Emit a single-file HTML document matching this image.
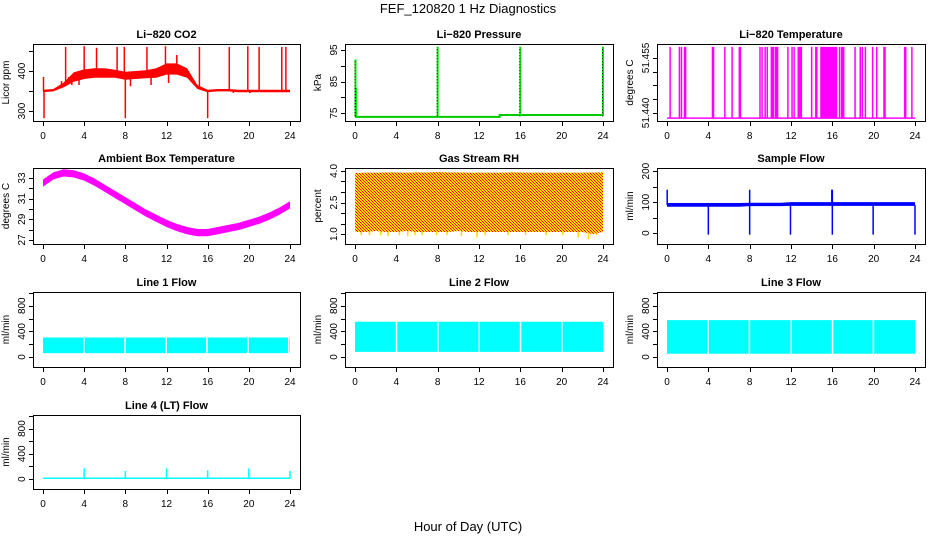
<!DOCTYPE html>
<html><head><meta charset="utf-8"><style>
body{margin:0;background:#fff}
svg{display:block;font-family:"Liberation Sans",Arial,sans-serif}
</style></head><body>
<svg id="c" width="936" height="540" viewBox="0 0 936 540" xmlns="http://www.w3.org/2000/svg">
<defs>
<pattern id="rhpat" width="3" height="3" patternUnits="userSpaceOnUse">
<rect width="3" height="3" fill="#ffd800"/><rect x="0" y="0" width="1" height="1" fill="#f00"/><rect x="2" y="2" width="1" height="1" fill="#f00"/><rect x="1" y="1" width="1" height="1" fill="#e33"/>
</pattern>
</defs>
<text x="468" y="13" text-anchor="middle" font-size="13">FEF_120820  1 Hz Diagnostics</text>
<text x="468" y="531" text-anchor="middle" font-size="13">Hour of Day (UTC)</text>
</svg>
<script>
// ---- data ----
const hourTicks = [0,4,8,12,16,20,24];
const hours = [0,1,2,3,4,5,6,7,8,9,10,11,12,13,14,15,16,17,18,19,20,21,22,23,24];
const co2Mid = [350,352,365,385,392,395,395,393,388,390,392,395,405,405,395,360,350,352,352,350,350,350,350,350,350];
const co2Half = [3,3,6,12,12,12,12,10,10,10,10,12,14,14,12,5,3,3,3,3,3,3,3,3,3];
const co2SpikeH = [0.05,0.1,2.2,4,5.2,7.2,7.9,8,10.1,11.9,15.2,16,18.1,19.9,21,23.2,23.6,2.8,3.5,8.5,10.5,12.2,18.5,20.1,1.8,2.5,13];
const co2SpikeV = [385,282,460,462,458,460,460,282,460,462,460,282,460,462,460,460,460,365,365,362,365,370,345,345,375,375,440];
const presBaseH = [0,14,14,24];
const presBaseV = [73.8,73.8,74.4,74.4];
const presSpikeH = [0.05,0.1,8,16,24];
const presSpikeV = [92,83,96,96,96];
const tempLow = 51.4386;
const tempHigh = 51.4580;
const tempSpikeH = [0.3,1.2,1.4,1.7,1.8,4.4,4.5,5.6,6.3,7.0,7.1,9.0,9.2,9.5,9.7,10.1,10.2,10.3,10.5,10.6,10.7,11.7,12.1,12.3,12.7,12.8,12.9,13.0,14.0,14.4,14.5,14.9,15.0,15.1,15.2,15.3,15.4,15.5,15.6,15.7,15.8,15.9,16.0,16.1,16.2,16.3,16.4,16.7,16.9,17.0,17.1,18.2,18.7,18.9,19.2,19.9,20.3,21.0,21.1,23.0,23.1,23.7];
const ambMid = [32.5,33.2,33.5,33.4,33.1,32.6,32.0,31.4,30.8,30.2,29.6,29.1,28.6,28.2,27.9,27.7,27.7,27.9,28.1,28.3,28.6,28.9,29.3,29.8,30.4];
const ambHalf = 0.35;
const rhUpper = [3.9,3.92,3.92,3.93,3.93,3.92,3.93,3.93,3.95,3.93,3.93,3.92,3.92,3.92,3.92,3.93,3.93,3.92,3.92,3.92,3.92,3.92,3.92,3.93,3.93];
const rhLower = [1.1,1.1,1.15,1.1,1.1,1.15,1.1,1.1,1.1,1.1,1.15,1.1,1.1,1.1,1.1,1.1,1.1,1.1,1.1,1.1,1.1,1.1,1.1,1.0,1.1];
const rhDipH = [0.6,1.4,2.5,3.2,4.3,5.1,5.8,6.5,7.9,8.9,10.3,11.8,12.6,14.8,16.5,18.5,20.1,21.6,22.6,23.4];
const rhDipV = [0.95,0.95,0.95,0.9,0.95,0.9,0.95,0.95,0.95,0.95,0.9,0.85,0.95,0.95,0.95,0.95,0.95,0.85,0.75,0.95];
const flowLow = [85,85,85,85,85,85,85,85,87,87,87,87,88,88,88,88,88,88,88,88,88,88,88,88,88];
const flowHigh = [97,97,97,97,97,97,97,97,98,98,98,98,100,100,100,100,100,100,100,100,100,100,100,100,100];
const flowSpikeH = [0.02,8,15.95,16,4,8,11.95,16,19.95,24];
const flowSpikeV = [140,140,140,140,-5,-5,-5,-5,-5,-5];
const line1Low = 60, line1High = 305;
const line1Gaps = [3.9,7.9,11.9,15.85,19.85,23.8];
const line2Low = 80, line2High = 550;
const line2Gaps = [3.95,7.95,11.95,15.95,19.95];
const line3Low = 50, line3High = 575;
const line3Gaps = [3.9,7.9,11.95,15.95,19.9];
const line4Base = 10;
const line4SpikeH = [4,8,12,16,20,24];
const line4SpikeV = [170,130,170,140,170,130];

// ---- layout ----
const svg = document.getElementById('c');
const NS = 'http://www.w3.org/2000/svg';
const colX = [[33,300],[345,613],[657,925]];
const rowY = [[44,121],[168,244],[292,367],[415,489]];
function E(tag, attrs){const e=document.createElementNS(NS,tag);for(const k in attrs)e.setAttribute(k,attrs[k]);return e;}
function panel(col,row,yMin,yMax,yTicks,yLabels,title,ylab,key){
  const [x0,x1]=colX[col],[y0,y1]=rowY[row];
  const g=E('g',{});
  
  
  svg.appendChild(g);
  const sx=h=>x0+10+h*(x1-x0-20)/24;
  const sy=v=>y1-(v-yMin)/(yMax-yMin)*(y1-y0);
  const t=E('text',{x:(x0+x1)/2,y:y0-6,'text-anchor':'middle','font-size':11,'font-weight':'bold'});
  t.textContent=title;
  
  
  g.appendChild(t);
  const plot=E('g',{});
  
  
  g.appendChild(plot);
  const ax=E('g',{stroke:'#000','stroke-width':1,fill:'none'});
  
  
  g.appendChild(ax);
  ax.appendChild(E('rect',{x:x0+.5,y:y0+.5,width:x1-x0,height:y1-y0}));
  ax.appendChild(E('line',{x1:sx(0),x2:sx(24),y1:y1+.5,y2:y1+.5}));
  hourTicks.forEach(h=>{
    ax.appendChild(E('line',{x1:Math.round(sx(h))+.5,x2:Math.round(sx(h))+.5,y1:y1,y2:y1+5}));
    const l=E('text',{x:sx(h),y:y1+18,'text-anchor':'middle','font-size':10,fill:'#000',stroke:'none'});
    l.textContent=h;
    
    
    g.appendChild(l);
  });
  ax.appendChild(E('line',{x1:x0+.5,x2:x0+.5,y1:sy(yTicks[0]),y2:sy(yTicks[yTicks.length-1])}));
  yTicks.forEach((v,i)=>{
    const y=Math.round(sy(v))+.5;
    ax.appendChild(E('line',{x1:x0-4,x2:x0,y1:y,y2:y}));
    if(yLabels[i]!==''){
      const l=E('text',{x:0,y:0,transform:`translate(${x0-8},${sy(v)}) rotate(-90)`,'text-anchor':'middle','font-size':10,fill:'#000',stroke:'none'});
      l.textContent=yLabels[i];
      
      
      g.appendChild(l);
    }
  });
  const yl=E('text',{x:0,y:0,transform:`translate(${x0-24},${(y0+y1)/2}) rotate(-90)`,'text-anchor':'middle','font-size':10});
  yl.textContent=ylab;
  
  
  g.appendChild(yl);
  return {plot,sx,sy,y0,y1};
}
function band(p,hs,lo,hi,fill,name){
  let d='M'+hs.map((h,i)=>p.sx(h)+','+p.sy(hi[i])).join('L');
  d+='L'+hs.slice().reverse().map((h,j)=>{const i=hs.length-1-j;return p.sx(h)+','+p.sy(lo[i]);}).join('L')+'Z';
  const e=E('path',{d:d,fill:fill});
  
  
  p.plot.appendChild(e);
}
function vline(p,h,a,b,color,w,name){
  const e=E('line',{x1:p.sx(h),x2:p.sx(h),y1:p.sy(a),y2:p.sy(b),stroke:color,'stroke-width':w});
  
  
  p.plot.appendChild(e);
}
function gapRect(p,h,w,name){
  const e=E('rect',{x:p.sx(h),y:p.y0+1,width:w,height:p.y1-p.y0-1,fill:'#fff'});
  
  
  p.plot.appendChild(e);
}
const fill=n=>hours.map(()=>n);

// CO2
let p=panel(0,0,275,467.5,[300,350,400,450],['300','','400',''],'Li\u2212820 CO2','Licor ppm','co2');
band(p,hours,co2Mid.map((v,i)=>v-co2Half[i]),co2Mid.map((v,i)=>v+co2Half[i]),'#f00','co2-band');
co2SpikeH.forEach((h,i)=>vline(p,h,co2Mid[Math.round(h)],co2SpikeV[i],'#f00',1.5,'co2-spike'));

// Pressure
p=panel(1,0,72.5,96.9,[75,80,85,90,95],['75','','85','','95'],'Li\u2212820 Pressure','kPa','pressure');
{const e=E('polyline',{points:presBaseH.map((h,i)=>p.sx(h)+','+p.sy(presBaseV[i])).join(' '),fill:'none',stroke:'#0c0','stroke-width':2});


p.plot.appendChild(e);}
presSpikeH.forEach((h,i)=>{vline(p,h,74,presSpikeV[i],'#0e0',2,'pressure-spike');
const e=E('line',{x1:p.sx(h)-0.5,x2:p.sx(h)-0.5,y1:p.sy(74),y2:p.sy(presSpikeV[i]),stroke:'#000','stroke-width':1,'stroke-dasharray':'1,2'});


p.plot.appendChild(e);});

// Li-820 Temperature
p=panel(2,0,51.4378,51.4588,[51.440,51.44375,51.4475,51.45125,51.455],['51.440','','','','51.455'],'Li\u2212820 Temperature','degrees C','li820-temp');
{const e=E('line',{x1:p.sx(0),x2:p.sx(24),y1:p.sy(tempLow),y2:p.sy(tempLow),stroke:'#f0f','stroke-width':1.5});


p.plot.appendChild(e);}
tempSpikeH.forEach(h=>vline(p,h,tempLow,tempHigh,'#f0f',1.5,'li820-temp-spike'));

// Ambient
p=panel(0,1,26.6,33.97,[27,28,29,30,31,32,33],['27','','29','','31','','33'],'Ambient Box Temperature','degrees C','ambient-temp');
band(p,hours,ambMid.map(v=>v-ambHalf),ambMid.map(v=>v+ambHalf),'#f0f','ambient-temp-band');

// RH
p=panel(1,1,0.53,4.14,[1.0,1.5,2.0,2.5,3.0,3.5,4.0],['1.0','','','2.5','','','4.0'],'Gas Stream RH','percent','rh');
rhDipH.forEach((h,i)=>vline(p,h,2,rhDipV[i],'#ffd800',1.5,'rh-dip'));
band(p,hours,rhLower,rhUpper,'url(#rhpat)','rh-band');

// Sample flow
p=panel(2,1,-35,210,[0,50,100,150,200],['0','','100','','200'],'Sample Flow','ml/min','sample-flow');
band(p,hours,flowLow,flowHigh,'#00f','sample-flow-band');
flowSpikeH.forEach((h,i)=>vline(p,h,90,flowSpikeV[i],'#00f',1.5,'sample-flow-spike'));

// Line flows
const lt=[0,200,400,600,800,1000],ll=['0','','400','','800',''];
p=panel(0,2,-156,1014,lt,ll,'Line 1 Flow','ml/min','line1');
band(p,hours,fill(line1Low),fill(line1High),'#0ff','line1-band');
line1Gaps.forEach(h=>gapRect(p,h,1.5,'line1-gap'));
p=panel(1,2,-156,1014,lt,ll,'Line 2 Flow','ml/min','line2');
band(p,hours,fill(line2Low),fill(line2High),'#0ff','line2-band');
line2Gaps.forEach(h=>gapRect(p,h,1.5,'line2-gap'));
p=panel(2,2,-156,1014,lt,ll,'Line 3 Flow','ml/min','line3');
band(p,hours,fill(line3Low),fill(line3High),'#0ff','line3-band');
line3Gaps.forEach(h=>gapRect(p,h,1.5,'line3-gap'));
p=panel(0,3,-156,1014,lt,ll,'Line 4 (LT) Flow','ml/min','line4');
band(p,hours,fill(line4Base-8),fill(line4Base+15),'#0ff','line4-band');
line4SpikeH.forEach((h,i)=>vline(p,h,line4Base,line4SpikeV[i],'#0ff',1.5,'line4-spike'));
</script>
</body></html>
